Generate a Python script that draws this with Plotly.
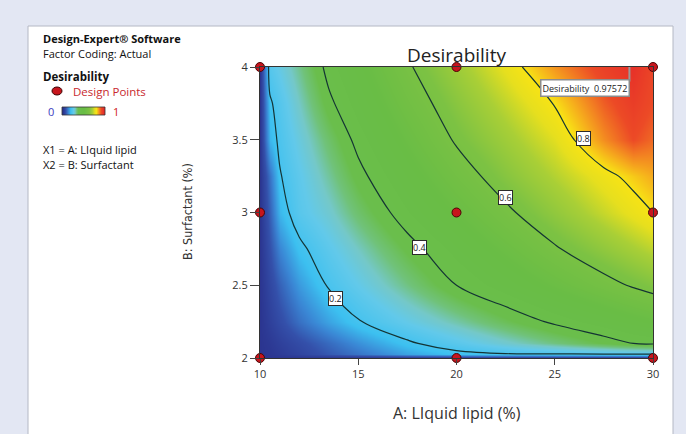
import plotly.graph_objects as go

# ---------------- data ----------------
x_lipid = [10, 10.5, 11, 12, 13.5, 15, 17.5, 20, 22.5, 25, 27.5, 29, 30]
y_surf = [2, 2.03, 2.1, 2.25, 2.5, 2.75, 3, 3.25, 3.5, 3.75, 4]
# desirability grid: one row per y_surf value, one column per x_lipid value
z_desir = [
    [0, 0, 0, 0, 0, 0, 0, 0, 0, 0, 0, 0, 0],
    [0, 0.005, 0.015, 0.035, 0.07, 0.10, 0.15, 0.185, 0.20, 0.21, 0.22, 0.225, 0.23],
    [0, 0.01, 0.025, 0.05, 0.09, 0.13, 0.19, 0.236, 0.282, 0.327, 0.373, 0.40, 0.41],
    [0, 0.025, 0.05, 0.095, 0.15, 0.196, 0.252, 0.305, 0.359, 0.411, 0.455, 0.482, 0.50],
    [0, 0.04, 0.08, 0.14, 0.206, 0.251, 0.325, 0.40, 0.458, 0.516, 0.574, 0.608, 0.63],
    [0, 0.06, 0.12, 0.185, 0.241, 0.292, 0.376, 0.451, 0.521, 0.592, 0.656, 0.694, 0.72],
    [0, 0.08, 0.17, 0.232, 0.281, 0.341, 0.431, 0.508, 0.585, 0.657, 0.729, 0.771, 0.80],
    [0, 0.10, 0.195, 0.244, 0.313, 0.382, 0.474, 0.561, 0.639, 0.710, 0.780, 0.82, 0.845],
    [0, 0.17, 0.212, 0.265, 0.344, 0.417, 0.515, 0.609, 0.682, 0.756, 0.867, 0.92, 0.895],
    [0, 0.19, 0.227, 0.291, 0.387, 0.453, 0.555, 0.644, 0.724, 0.804, 0.905, 0.948, 0.92],
    [0, 0.23, 0.26, 0.32, 0.419, 0.483, 0.590, 0.680, 0.768, 0.862, 0.941, 0.975, 0.93],
]
contour_levels = [0.2, 0.4, 0.6, 0.8]
label_x = [13.82, 18.14, 22.47, 26.44]
label_y = [2.41, 2.76, 3.10, 3.51]

design_x = [10, 10, 10, 20, 20, 20, 30, 30, 30]
design_y = [2, 3, 4, 2, 3, 4, 2, 3, 4]

opt_x = 28.8
opt_y = 4.0
opt_value = 0.97572

x_ticks = [10, 15, 20, 25, 30]
y_ticks = [2, 2.5, 3, 3.5, 4]

# ---------------- figure ----------------
W, H = 686, 434


def px(v):
    return v / W


def py(v):
    return 1 - v / H


FONT = "Open Sans, Noto Sans, DejaVu Sans, sans-serif"
NARROW = "Liberation Sans Narrow, DejaVu Sans Condensed, Arial Narrow, sans-serif"

cscale = [
    [0.0, "#2b3590"],
    [0.06, "#3450aa"],
    [0.12, "#3a86d4"],
    [0.18, "#3cc0f0"],
    [0.25, "#62c9ea"],
    [0.29, "#74c8c8"],
    [0.33, "#70c27a"],
    [0.37, "#6abe4c"],
    [0.50, "#69bd45"],
    [0.62, "#7cc243"],
    [0.70, "#a9cf36"],
    [0.76, "#e6df1e"],
    [0.80, "#f7e315"],
    [0.84, "#f6b01c"],
    [0.88, "#f27d22"],
    [0.92, "#ec4a26"],
    [1.0, "#e4262a"],
]

fig = go.Figure()

fig.add_trace(go.Contour(
    x=x_lipid, y=y_surf, z=z_desir,
    zmin=0, zmax=1, colorscale=cscale, showscale=False,
    autocontour=False,
    contours=dict(start=min(contour_levels), end=max(contour_levels),
                  size=contour_levels[1] - contour_levels[0],
                  coloring="heatmap", showlabels=False),
    line=dict(color="#143434", width=1.2, smoothing=1.0),
    hoverinfo="skip",
))

fig.add_trace(go.Scatter(
    x=design_x, y=design_y, mode="markers",
    marker=dict(size=9, color="#c7151d", line=dict(color="#4a0505", width=1)),
    cliponaxis=False, hoverinfo="skip", showlegend=False,
))

# mini colour legend bar
fig.add_trace(go.Heatmap(
    z=[[i / 20 for i in range(21)]], zmin=0, zmax=1, colorscale=cscale,
    showscale=False, zsmooth="best", xaxis="x2", yaxis="y2", hoverinfo="skip",
))

shapes = [
    dict(type="rect", xref="paper", yref="paper", x0=px(28), x1=px(673),
         y0=py(460), y1=py(26), fillcolor="white",
         line=dict(color="#b4b8c4", width=1), layer="below"),
    dict(type="circle", xref="paper", yref="paper", x0=px(52), x1=px(62),
         y0=py(95), y1=py(87), fillcolor="#c7151d",
         line=dict(color="#3a0000", width=1)),
    dict(type="rect", xref="paper", yref="paper", x0=px(62), x1=px(105),
         y0=py(115), y1=py(107), line=dict(color="#333", width=0.8)),
    dict(type="line", xref="x", yref="y", x0=opt_x, x1=opt_x,
         y0=opt_y, y1=opt_y - 0.1, line=dict(color="#9a9a9a", width=2)),
]

ann = []


def text(x, y, s, size=11, color="#111", bold=False, xanchor="left", family=FONT,
         angle=0):
    ann.append(dict(xref="paper", yref="paper", x=px(x), y=py(y),
                    text=(f"<b>{s}</b>" if bold else s), showarrow=False,
                    xanchor=xanchor, yanchor="middle", textangle=angle,
                    borderpad=0,
                    font=dict(size=size, color=color, family=family)))


text(42, 38.5, "Design-Expert® Software", size=11, bold=True)
text(42, 53.5, "Factor Coding: Actual", size=11)
text(42, 76, "Desirability", size=11.5, bold=True)
text(72, 91, "Design Points", size=11.5, color="#c8282e")
text(51, 111, "0", size=11, color="#3c3cc0", xanchor="center")
text(116, 111, "1", size=11, color="#d02020", xanchor="center")
text(42, 149.5, "X1 = A: LIquid lipid", size=11)
text(42, 164.5, "X2 = B: Surfactant", size=11)
text(457, 55, "Desirability", size=19, color="#222", xanchor="center")
text(457, 413, "A: LIquid lipid (%)", size=16, color="#333", xanchor="center")
text(187, 212, "B: Surfactant (%)", size=12.5, color="#333", xanchor="center",
     family=NARROW, angle=-90)

for lv, lx, ly in zip(contour_levels, label_x, label_y):
    ann.append(dict(xref="x", yref="y", x=lx, y=ly, text=f"{lv:.1f}",
                    showarrow=False, bgcolor="white", bordercolor="#2a2a2a",
                    borderwidth=1, borderpad=0,
                    font=dict(size=9, color="#222", family=FONT)))

ann.append(dict(xref="x", yref="y", x=opt_x, y=opt_y, xanchor="right",
                yanchor="top", yshift=-12, xshift=1,
                text=f"Desirability&nbsp;&nbsp;{opt_value}", showarrow=False,
                bgcolor="white", bordercolor="#8c8c8c", borderwidth=1.5,
                borderpad=1, font=dict(size=9, color="#222", family=FONT)))

fig.update_layout(
    width=W, height=H,
    margin=dict(l=0, r=0, t=0, b=0),
    paper_bgcolor="#e3e7f3",
    plot_bgcolor="white",
    showlegend=False,
    shapes=shapes,
    annotations=ann,
    xaxis=dict(domain=[px(260), px(653)], range=[10, 30], tickvals=x_ticks,
               ticks="outside", ticklen=6, tickcolor="#444",
               showline=True, linecolor="#333", linewidth=1, mirror=True,
               showgrid=False, zeroline=False, automargin=False,
               tickfont=dict(size=11, color="#333", family=FONT)),
    yaxis=dict(domain=[py(358), py(67)], range=[2, 4], tickvals=y_ticks,
               ticks="outside", ticklen=9, tickcolor="#444",
               showline=True, linecolor="#333", linewidth=1, mirror=True,
               showgrid=False, zeroline=False, automargin=False,
               tickfont=dict(size=11, color="#333", family=FONT)),
    xaxis2=dict(domain=[px(62), px(105)], anchor="y2", visible=False, fixedrange=True),
    yaxis2=dict(domain=[py(115), py(107)], anchor="x2", visible=False, fixedrange=True),
)

fig.write_html("out.html", config={"displayModeBar": False},
               post_script="document.body.style.margin='0';")
